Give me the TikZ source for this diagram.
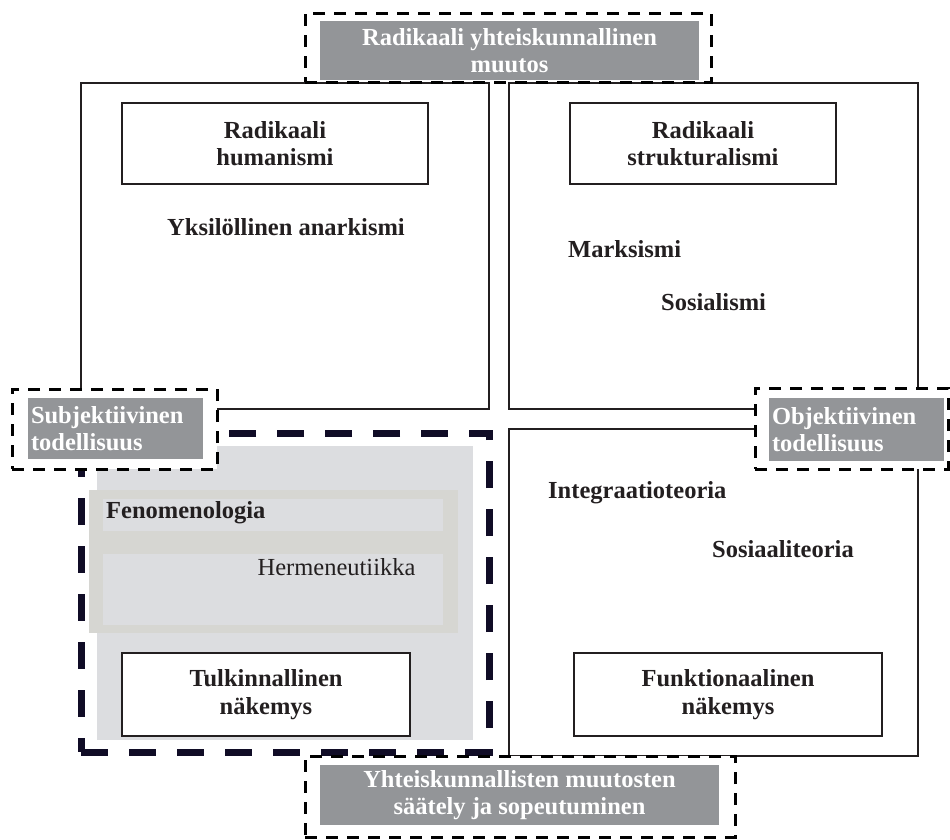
\documentclass[tikz,border=0pt]{standalone}
\usepackage{fontspec}
\setmainfont{Liberation Serif}
\definecolor{ink}{RGB}{35,31,32}
\definecolor{axisgray}{RGB}{147,149,152}
\definecolor{zonegray}{RGB}{220,221,224}
\definecolor{bandgray}{RGB}{214,214,210}
\definecolor{navy}{RGB}{16,12,38}
\newcommand{\bigtext}{\fontsize{24.5}{27.5}\selectfont}
\tikzset{
  quad/.style={draw=ink, line width=1.6pt, inner sep=0pt},
  titlebox/.style={draw=ink, line width=1.8pt, fill=white, inner sep=0pt,
    align=center, font=\bigtext\bfseries, text=ink},
  label/.style={inner sep=0pt, font=\bigtext\bfseries, text=ink},
  axisframe/.style={draw=black, fill=white, line width=3pt,
    dash pattern=on 12pt off 9pt, inner sep=0pt},
  axislabel/.style={fill=axisgray, inner sep=0pt, text=white,
    font=\bigtext\bfseries},
  zone/.style={inner sep=0pt},
}
\begin{document}
\begin{tikzpicture}[x=1pt, y=-1pt]
\useasboundingbox (0,0) rectangle (950,839);

% the four quadrants
\node[quad, minimum width=408pt, minimum height=326pt] (tl) at (285,246) {};
\node[quad, minimum width=409pt, minimum height=326pt] (tr) at (713.5,246) {};
\node[quad, minimum width=409pt, minimum height=327pt] (br) at (713.5,592.5) {};

% shaded interpretive zone
\node[zone, fill=zonegray, minimum width=376pt, minimum height=294pt] (bl) at (285,593) {};
\node[zone, fill=bandgray, minimum width=369pt, minimum height=143pt] (band) at (273.5,561.5) {};
\node[zone, fill=zonegray, minimum width=340pt, minimum height=32pt] (fenrow) at (273,515) {};
\node[zone, fill=zonegray, minimum width=340pt, minimum height=71pt] (herrow) at (273,589.5) {};
\node[draw=navy, line width=7pt, dash pattern=on 27pt off 21pt, inner sep=0pt,
      minimum width=408pt, minimum height=319pt] (blframe) at (285,592.5) {};

% paradigm titles
\node[titlebox, minimum width=306pt, minimum height=81pt] (rh) at (275,143.5) {Radikaali\\humanismi};
\node[titlebox, minimum width=266pt, minimum height=81pt] (rs) at (703,143.5) {Radikaali\\strukturalismi};
\node[titlebox, minimum width=288pt, minimum height=83pt] (tn) at (266,694.5) {Tulkinnallinen\\näkemys};
\node[titlebox, minimum width=308pt, minimum height=83pt] (fn) at (728,694.5) {Funktionaalinen\\näkemys};

% schools of thought
\node[label] (yks) at (286,227) {Yksilöllinen anarkismi};
\node[label, anchor=west] (marx) at (568,249) {Marksismi};
\node[label, anchor=west] (sos) at (661,302) {Sosialismi};
\node[label, anchor=west] (integ) at (548,493) {Integraatioteoria};
\node[label, anchor=west] (sosteo) at (712,549) {Sosiaaliteoria};
\node[label, anchor=west] (fen) at (106,513) {Fenomenologia};
\node[inner sep=0pt, font=\bigtext, text=ink] (her) at (336.5,567) {Hermeneutiikka};

% axis ends
\node[axisframe, minimum width=406pt, minimum height=69pt] (topf) at (508,47.5) {};
\node[axislabel, align=center, minimum width=379pt, minimum height=59pt] (top) at (509.5,50.5)
  {Radikaali yhteiskunnallinen\\muutos};

\node[axisframe, minimum width=205pt, minimum height=80pt] (subjf) at (114.5,429) {};
\node[axislabel, align=left, text width=169pt, inner xsep=3pt, minimum height=61pt] (subj) at (115.5,428.5)
  {Subjektiivinen\\todellisuus};

\node[axisframe, minimum width=193pt, minimum height=81pt] (objf) at (851.5,428.5) {};
\node[axislabel, align=left, text width=169pt, inner xsep=3pt, minimum height=63pt] (obj) at (856.5,429.5)
  {Objektiivinen\\todellisuus};

\node[axisframe, minimum width=430pt, minimum height=81pt] (botf) at (520,796.5) {};
\node[axislabel, align=center, minimum width=399pt, minimum height=60pt] (bot) at (519.5,795)
  {Yhteiskunnallisten muutosten\\säätely ja sopeutuminen};
\end{tikzpicture}
\end{document}
